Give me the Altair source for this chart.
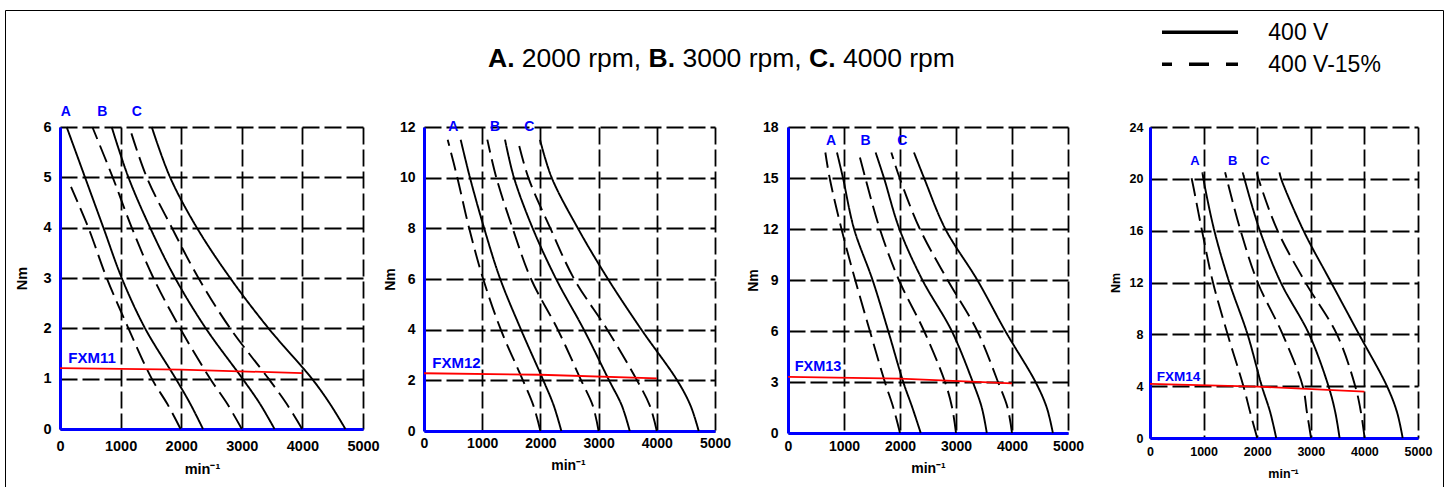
import altair as alt
import pandas as pd

FONT = "Liberation Sans, Arial, sans-serif"
BLUE = "#0000ff"
RED = "#ff0000"

RPM_TICKS = [0, 1000, 2000, 3000, 4000, 5000]
VOLTAGES = ["400 V", "400 V-15%"]
SPEED_LABELS = ["A", "B", "C"]

# ---------------- FXM11 (Nm 0..6) ----------------
FXM11_NM_SOLID = [6, 5, 4, 3, 2, 1, 0.5, 0]
FXM11_A_SOLID = [110, 413, 716, 1019, 1404, 1910, 2150, 2360]
FXM11_B_SOLID = [853, 1129, 1487, 1900, 2406, 3012, 3300, 3540]
FXM11_C_SOLID = [1514, 1817, 2258, 2808, 3441, 4157, 4455, 4710]
FXM11_NM_B_DASH = [6, 5, 4, 3, 2, 1, 0.5, 0]
FXM11_B_DASH = [534, 870, 1184, 1542, 1982, 2478, 2760, 3000]
FXM11_C_DASH = [1145, 1432, 1845, 2285, 2808, 3441, 3740, 3995]
FXM11_NM_A_DASH = [4.81, 4, 3, 2, 1, 0.5, 0]
FXM11_A_DASH = [182, 468, 771, 1129, 1514, 1770, 1990]
FXM11_RED_RPM = [0, 2000, 4000]
FXM11_RED_NM = [1.21, 1.18, 1.11]
FXM11_LABEL_RPM = [94, 698, 1266]
FXM11_LABEL_NM = [6.3, 6.3, 6.3]
FXM11_NAME_POS = (138, 1.41)

# ---------------- FXM12 (Nm 0..12) ----------------
FXM12_NM = [11.5, 10, 8, 6, 4, 2, 1, 0]
FXM12_A_SOLID = [630, 790, 1034, 1310, 1667, 2050, 2230, 2360]
FXM12_A_DASH = [407, 573, 776, 1017, 1320, 1700, 1880, 2000]
FXM12_B_SOLID = [1392, 1546, 1868, 2270, 2747, 3180, 3400, 3535]
FXM12_B_DASH = [1088, 1243, 1523, 1839, 2299, 2700, 2900, 3000]
FXM12_C_SOLID = [1993, 2194, 2644, 3161, 3736, 4350, 4580, 4720]
FXM12_C_DASH = [1609, 1793, 2172, 2580, 3149, 3660, 3880, 4000]
FXM12_RED_RPM = [0, 2000, 4000]
FXM12_RED_NM = [2.28, 2.22, 2.08]
FXM12_LABEL_RPM = [503, 1220, 1810]
FXM12_LABEL_NM = [12.0, 12.0, 12.0]
FXM12_NAME_POS = (143, 2.68)

# ---------------- FXM13 (Nm 0..18) ----------------
FXM13_NM = [16.5, 15, 12, 9, 6, 3, 1.5, 0]
FXM13_A_SOLID = [875, 982, 1180, 1510, 1790, 2058, 2220, 2370]
FXM13_A_DASH = [667, 744, 955, 1200, 1462, 1730, 1880, 2000]
FXM13_B_SOLID = [1565, 1714, 1990, 2400, 2924, 3300, 3460, 3550]
FXM13_B_DASH = [1262, 1381, 1640, 1980, 2430, 2804, 2930, 3000]
FXM13_C_SOLID = [2250, 2430, 2810, 3380, 3880, 4420, 4620, 4730]
FXM13_C_DASH = [1845, 1994, 2355, 2850, 3380, 3750, 3920, 4000]
FXM13_RED_RPM = [0, 2000, 4000]
FXM13_RED_NM = [3.3, 3.2, 2.92]
FXM13_LABEL_RPM = [768, 1387, 2042]
FXM13_LABEL_NM = [17.16, 17.16, 17.16]
FXM13_NAME_POS = (119, 3.88)

# ---------------- FXM14 (Nm 0..24) ----------------
FXM14_NM = [20.5, 20, 16, 12, 8, 4, 2, 0]
FXM14_A_SOLID = [978, 996, 1200, 1480, 1820, 2086, 2242, 2355]
FXM14_A_DASH = [747, 778, 970, 1175, 1448, 1743, 1868, 2000]
FXM14_B_SOLID = [1731, 1762, 2050, 2440, 2970, 3330, 3456, 3537]
FXM14_B_DASH = [1401, 1432, 1690, 2010, 2475, 2850, 2927, 3005]
FXM14_C_SOLID = [2416, 2447, 2864, 3380, 3900, 4421, 4608, 4714]
FXM14_C_DASH = [1993, 2024, 2380, 2900, 3487, 3829, 3935, 4004]
FXM14_RED_RPM = [0, 2000, 4000]
FXM14_RED_NM = [4.17, 3.97, 3.58]
FXM14_LABEL_RPM = [840, 1542, 2146]
FXM14_LABEL_NM = [21.4, 21.4, 21.4]
FXM14_NAME_POS = (125, 4.7)


def curves_df(items):
    rows = []
    for speed, volt, rpm, nm in items:
        for r, t in zip(rpm, nm):
            rows.append({"curve": speed + " " + volt, "voltage": volt, "rpm": r, "nm": t})
    return pd.DataFrame(rows)


FXM11_DF = curves_df([
    ("A", VOLTAGES[0], FXM11_A_SOLID, FXM11_NM_SOLID),
    ("B", VOLTAGES[0], FXM11_B_SOLID, FXM11_NM_SOLID),
    ("C", VOLTAGES[0], FXM11_C_SOLID, FXM11_NM_SOLID),
    ("A", VOLTAGES[1], FXM11_A_DASH, FXM11_NM_A_DASH),
    ("B", VOLTAGES[1], FXM11_B_DASH, FXM11_NM_B_DASH),
    ("C", VOLTAGES[1], FXM11_C_DASH, FXM11_NM_B_DASH),
])


def std_df(a_s, a_d, b_s, b_d, c_s, c_d, nm):
    return curves_df([
        ("A", VOLTAGES[0], a_s, nm), ("A", VOLTAGES[1], a_d, nm),
        ("B", VOLTAGES[0], b_s, nm), ("B", VOLTAGES[1], b_d, nm),
        ("C", VOLTAGES[0], c_s, nm), ("C", VOLTAGES[1], c_d, nm),
    ])


FXM12_DF = std_df(FXM12_A_SOLID, FXM12_A_DASH, FXM12_B_SOLID, FXM12_B_DASH,
                  FXM12_C_SOLID, FXM12_C_DASH, FXM12_NM)
FXM13_DF = std_df(FXM13_A_SOLID, FXM13_A_DASH, FXM13_B_SOLID, FXM13_B_DASH,
                  FXM13_C_SOLID, FXM13_C_DASH, FXM13_NM)
FXM14_DF = std_df(FXM14_A_SOLID, FXM14_A_DASH, FXM14_B_SOLID, FXM14_B_DASH,
                  FXM14_C_SOLID, FXM14_C_DASH, FXM14_NM)


def panel(name, df, red_rpm, red_nm, lab_rpm, lab_nm, name_pos, ymax, ystep,
          w, h, fs, xpad, ypad, ytitle_x, xtitle_x, xtitle_y, lab_fs, name_fs):
    common = dict(grid=True, gridColor="black", gridDash=[17, 5], gridWidth=1.8,
                  domainColor=BLUE, domainWidth=3, ticks=False,
                  labelFont=FONT, labelFontSize=fs, labelFontWeight="bold",
                  labelColor="black", labelFlush=False, labelOverlap=False,
                  titleFont=FONT, titleFontSize=fs, titleFontWeight="bold",
                  titleColor="black", titleAlign="center", titleBaseline="middle")
    x = alt.X("rpm:Q", scale=alt.Scale(domain=[0, 5000], nice=False, zero=False),
              axis=alt.Axis(values=RPM_TICKS, format="d", title="min\u207b\u00b9",
                            labelPadding=xpad, titleX=xtitle_x, titleY=xtitle_y,
                            titleAngle=0, **common))
    y = alt.Y("nm:Q", scale=alt.Scale(domain=[0, ymax], nice=False, zero=True),
              axis=alt.Axis(values=list(range(0, ymax + 1, ystep)), format="d",
                            title="Nm", labelPadding=ypad, titleX=ytitle_x,
                            titleY=h / 2, titleAngle=270, **common))
    lines = alt.Chart(df).mark_line(color="black", strokeWidth=1.9,
                                    interpolate="catmull-rom").encode(
        x=x, y=y, detail="curve:N", order=alt.Order("nm:Q"),
        strokeDash=alt.StrokeDash("voltage:N", legend=None,
                                  scale=alt.Scale(domain=VOLTAGES,
                                                  range=[[1, 0], [18, 7]])))
    red = alt.Chart(pd.DataFrame({"rpm": red_rpm, "nm": red_nm})).mark_line(
        color=RED, strokeWidth=1.8).encode(x=x, y=y)
    labels = alt.Chart(pd.DataFrame({"rpm": lab_rpm, "nm": lab_nm,
                                     "label": SPEED_LABELS})).mark_text(
        font=FONT, fontSize=lab_fs, fontWeight="bold", color=BLUE,
        align="center", baseline="middle").encode(x=x, y=y, text="label:N")
    nm_label = alt.Chart(pd.DataFrame({"rpm": [name_pos[0]], "nm": [name_pos[1]],
                                       "label": [name]})).mark_text(
        font=FONT, fontSize=name_fs, fontWeight="bold", color=BLUE,
        align="left", baseline="middle").encode(x=x, y=y, text="label:N")
    return [lines, red, labels, nm_label], (w, h)


# ---- title (mixed bold/regular) positioned with Arial metrics ----
W_REG = {" ": 0.278, "0": 0.556, "2": 0.556, "3": 0.556, "4": 0.556,
         "r": 0.333, "p": 0.556, "m": 0.833, ",": 0.278}
W_BOLD = {"A": 0.722, "B": 0.722, "C": 0.722, ".": 0.278}
TITLE_PIECES = [("A.", "bold"), ("2000 rpm,", "normal"), ("B.", "bold"),
                ("3000 rpm,", "normal"), ("C.", "bold"), ("4000 rpm", "normal")]
TITLE_FS = 26.5
ONE = pd.DataFrame({"k": [0]})

ann = []
cursor = 428.0
for text, weight in TITLE_PIECES:
    ann.append(alt.Chart(ONE).mark_text(font=FONT, fontSize=TITLE_FS, fontWeight=weight,
                                        color="black", align="left",
                                        baseline="alphabetic").encode(
        x=alt.value(cursor), y=alt.value(-60.5), text=alt.value(text)))
    table = W_BOLD if weight == "bold" else W_REG
    cursor += (sum(table[c] for c in text) + W_REG[" "]) * TITLE_FS

# legend (drawn)
ann.append(alt.Chart(ONE).mark_rule(color="black", strokeWidth=3.5).encode(
    x=alt.value(1102), x2=alt.value(1178), y=alt.value(-94.7)))
ann.append(alt.Chart(ONE).mark_rule(color="black", strokeWidth=3.5,
                                    strokeDash=[20, 17], strokeDashOffset=10).encode(
    x=alt.value(1102), x2=alt.value(1178), y=alt.value(-62.7)))
for txt, yy in zip(VOLTAGES, [-87.0, -55.3]):
    ann.append(alt.Chart(ONE).mark_text(font=FONT, fontSize=23, color="black",
                                        align="left", baseline="alphabetic").encode(
        x=alt.value(1208.3), y=alt.value(yy), text=alt.value(txt)))

# outer frame (left, top, right)
ann.append(alt.Chart(ONE).mark_rule(color="black", strokeWidth=1).encode(
    x=alt.value(-54.5), y=alt.value(-116.5), y2=alt.value(360)))
ann.append(alt.Chart(ONE).mark_rule(color="black", strokeWidth=1).encode(
    x=alt.value(-54.5), x2=alt.value(1383.5), y=alt.value(-116.5)))
ann.append(alt.Chart(ONE).mark_rule(color="black", strokeWidth=1).encode(
    x=alt.value(1383.5), y=alt.value(-116.5), y2=alt.value(360)))

l1, (w1, h1) = panel("FXM11", FXM11_DF, FXM11_RED_RPM, FXM11_RED_NM, FXM11_LABEL_RPM,
                     FXM11_LABEL_NM, FXM11_NAME_POS, 6, 1, 303, 302, 14.5, 10, 9,
                     -38, 142, 40, 14, 15)
l2, (w2, h2) = panel("FXM12", FXM12_DF, FXM12_RED_RPM, FXM12_RED_NM, FXM12_LABEL_RPM,
                     FXM12_LABEL_NM, FXM12_NAME_POS, 12, 2, 291, 304, 14, 5, 9,
                     -34, 144, 34, 14, 15)
l3, (w3, h3) = panel("FXM13", FXM13_DF, FXM13_RED_RPM, FXM13_RED_NM, FXM13_LABEL_RPM,
                     FXM13_LABEL_NM, FXM13_NAME_POS, 18, 3, 280, 306, 14, 6, 10,
                     -35, 140, 35, 14, 14.5)
l4, (w4, h4) = panel("FXM14", FXM14_DF, FXM14_RED_RPM, FXM14_RED_NM, FXM14_LABEL_RPM,
                     FXM14_LABEL_NM, FXM14_NAME_POS, 24, 4, 268, 311, 12.5, 7, 7,
                     -35, 133, 35, 13, 13.5)

p1 = alt.layer(*(l1 + ann)).properties(width=w1, height=h1)
p2 = alt.layer(*l2).properties(width=w2, height=h2)
p3 = alt.layer(*l3).properties(width=w3, height=h3)
p4 = alt.layer(*l4).properties(width=w4, height=h4)


def spacer(w):
    return alt.Chart(ONE).mark_point(opacity=0, size=1).properties(width=w, height=1)


chart = alt.hconcat(p1, spacer(61), p2, spacer(73), p3, spacer(82), p4,
                    spacing=0, bounds="flush").properties(
    padding={"left": 5, "top": 10, "right": 0, "bottom": 0}
).configure_view(stroke=None)

chart.save("out.html", embed_options={"renderer": "svg", "actions": False})
